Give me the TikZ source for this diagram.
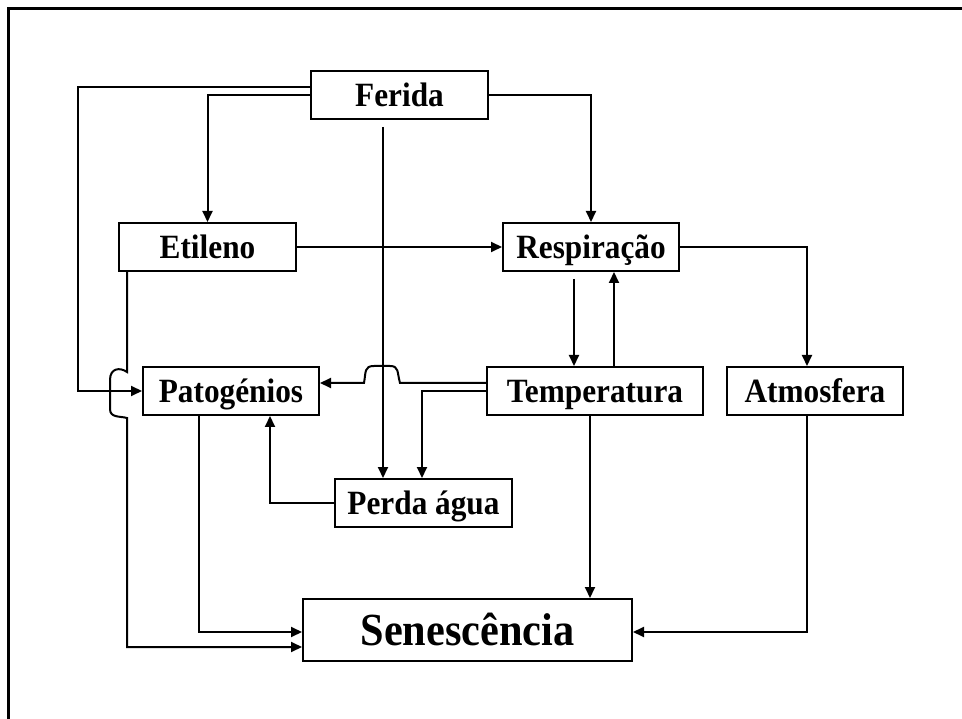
\documentclass[tikz,border=0pt]{standalone}
\usepackage{fontspec}
\setmainfont{Liberation Serif}[FakeStretch=0.92]
\usetikzlibrary{arrows.meta}
\begin{document}
\begin{tikzpicture}[x=1pt,y=-1pt,
  box/.style={draw,line width=2pt,minimum height=48pt,inner sep=0pt,
    text height=22.5pt,text depth=0pt,font=\fontsize{34}{40}\selectfont\bfseries},
  bigbox/.style={box,minimum height=62pt,text height=30.5pt,font=\fontsize{46}{54}\selectfont\bfseries},
  conn/.style={line width=2pt},
  arr/.style={conn,-{Triangle[length=11pt,width=10pt]}}]
\useasboundingbox (0,0) rectangle (962,719);
\draw[line width=3pt] (8.7,719) -- (8.7,8.3) -- (962,8.3);

\node[box,minimum width=177pt] (fer) at (399.5,95) {Ferida};
\node[box,minimum width=177pt] (eti) at (207.5,247) {Etileno};
\node[box,minimum width=176pt] (res) at (591,247) {Respiração};
\node[box,minimum width=176pt] (pat) at (231,391) {Patogénios};
\node[box,minimum width=216pt] (tem) at (595,391) {Temperatura};
\node[box,minimum width=176pt] (atm) at (815,391) {Atmosfera};
\node[box,minimum width=177pt] (per) at (423.5,503) {Perda água};
\node[bigbox,minimum width=329pt] (sen) at (467.5,630) {Senescência};

% Ferida -> Patogénios (outer loop)
\draw[arr] ([yshift=8pt]fer.west) -| (78,391) -- (pat.west);
% Ferida -> Etileno
\draw[arr] (fer.west) -| (eti.north);
% Ferida -> Respiracao
\draw[arr] (fer.east) -| (res.north);
% Ferida -> Perda agua
\draw[arr] ([xshift=-16.5pt,yshift=-7pt]fer.south) coordinate (fa) -- (fa |- per.north);
% Etileno -> Respiracao
\draw[arr] (eti.east) -- (res.west);
% Respiracao -> Temperatura
\draw[arr] ([xshift=-17pt,yshift=-7pt]res.south) coordinate (ra) -- (ra |- tem.north);
% Temperatura -> Respiracao
\draw[arr] ([xshift=19pt]tem.north) coordinate (ta) -- (ta |- res.south);
% Respiracao -> Atmosfera
\draw[arr] (res.east) -| ([xshift=-8pt]atm.north);
% Temperatura -> Patogenios (with hop)
\draw[arr] ([yshift=8pt]tem.west) -- (400,383)
  .. controls (397,372) and (399,366) .. (390,366) -- (374,366)
  .. controls (364,366) and (366,372) .. (364,383) -- ([yshift=8pt]pat.east);
% Temperatura -> Perda agua
\draw[arr] (tem.west) -| ([xshift=-1.5pt]per.north);
% Perda agua -> Patogenios
\draw[arr] (per.west) -| ([xshift=39pt]pat.south);
% Temperatura -> Senescencia
\draw[arr] ([xshift=-5pt]tem.south) coordinate (tb) -- (tb |- sen.north);
% Atmosfera -> Senescencia
\draw[arr] ([xshift=-8pt]atm.south) |- ([yshift=-2pt]sen.east);
% Patogenios -> Senescencia
\draw[arr] ([xshift=-32pt]pat.south) |- ([yshift=-2pt]sen.west);
% Etileno -> Senescencia (with hop)
\draw[arr] ([xshift=-80.5pt]eti.south) -- (127,372)
  .. controls (120,367) and (110,368) .. (110,380) -- (110,409)
  .. controls (110,418) and (120,416) .. (127,418) -- (127,647) -- ([yshift=-17pt]sen.west);
\end{tikzpicture}
\end{document}
